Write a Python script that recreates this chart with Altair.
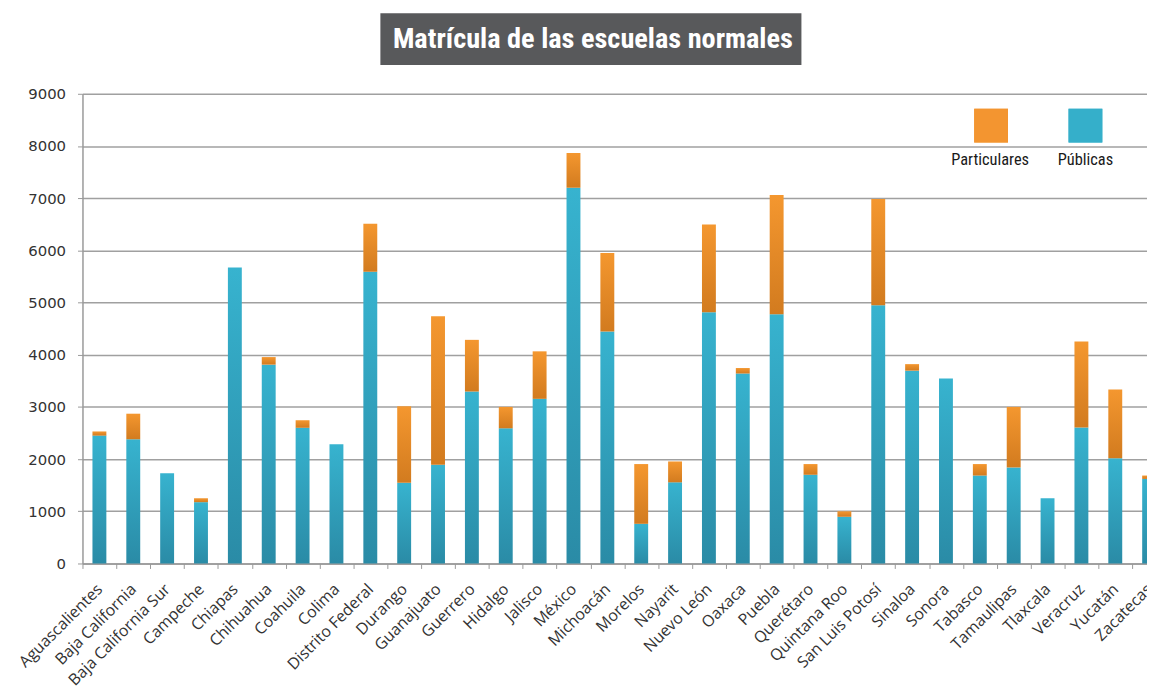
import altair as alt
import pandas as pd

estados = ["Aguascalientes", "Baja California", "Baja California Sur", "Campeche", "Chiapas",
           "Chihuahua", "Coahuila", "Colima", "Distrito Federal", "Durango", "Guanajuato",
           "Guerrero", "Hidalgo", "Jalisco", "México", "Michoacán", "Morelos", "Nayarit",
           "Nuevo León", "Oaxaca", "Puebla", "Querétaro", "Quintana Roo", "San Luis Potosí",
           "Sinaloa", "Sonora", "Tabasco", "Tamaulipas", "Tlaxcala", "Veracruz", "Yucatán",
           "Zacatecas"]
publicas = [2450, 2380, 1730, 1175, 5670, 3810, 2600, 2285, 5590, 1545, 1890, 3295, 2590, 3155,
            7200, 4445, 760, 1555, 4815, 3640, 4775, 1700, 895, 4950, 3695, 3545, 1685, 1840,
            1250, 2605, 2015, 1620]
particulares = [80, 490, 0, 75, 0, 145, 145, 0, 920, 1470, 2845, 990, 410, 910, 665, 1505, 1145,
                400, 1680, 105, 2285, 205, 105, 2035, 125, 0, 220, 1160, 0, 1650, 1320, 65]
y_ticks = [0, 1000, 2000, 3000, 4000, 5000, 6000, 7000, 8000, 9000]
titulo = "Matrícula de las escuelas normales"
leyenda = ["Particulares", "Públicas"]

df = pd.DataFrame({"estado": estados, "publicas": publicas, "particulares": particulares})
df["total"] = df["publicas"] + df["particulares"]

W, H = 1072, 473
BAND = 34.1
COND = "Roboto Condensed, DejaVu Sans Condensed, Liberation Sans Narrow, Noto Sans Condensed, Roboto"

teal = alt.Gradient(gradient="linear", x1=0, y1=0, x2=0, y2=1,
                    stops=[alt.GradientStop(color="#37b3cf", offset=0),
                           alt.GradientStop(color="#2a8ba6", offset=1)])
orange = alt.Gradient(gradient="linear", x1=0, y1=0, x2=0, y2=1,
                      stops=[alt.GradientStop(color="#f4972f", offset=0),
                             alt.GradientStop(color="#d27b1f", offset=1)])

xenc = alt.X("estado:N", sort=estados, title=None,
             scale=alt.Scale(range=[0, BAND * len(estados)], paddingInner=0, paddingOuter=0),
             axis=alt.Axis(labelAngle=-45, labelAlign="right", labelBaseline="middle",
                           labelFont="Open Sans", labelFontSize=16, labelColor="#333333",
                           labelPadding=18, tickBand="extent", tickSize=5, tickColor="#999999",
                           domainColor="#999999", domainWidth=1.5, grid=False, labelOverlap=False))
yscale = alt.Scale(domain=[0, 9000], nice=False)
yaxis = alt.Axis(values=y_ticks, title=None, labelFont="DejaVu Sans", labelFontSize=15,
                 labelColor="#333333", labelPadding=12, tickSize=5, tickColor="#999999",
                 domainColor="#999999", domainWidth=1.5, gridColor="#a0a0a0", gridWidth=1.5,
                 format="d")

base = alt.Chart(df)
pub_bars = base.mark_bar(size=14, color=teal).encode(
    x=xenc, y=alt.Y("publicas:Q", scale=yscale, axis=yaxis))
part_bars = base.transform_filter("datum.particulares > 0").mark_bar(size=14, color=orange).encode(
    x=alt.X("estado:N", sort=estados), y=alt.Y("total:Q"), y2="publicas:Q")

tdf = pd.DataFrame({"t": [titulo]})
title_box = alt.Chart(tdf).mark_rect(color="#58595b").encode(
    x=alt.value(300), x2=alt.value(724), y=alt.value(-81), y2=alt.value(-29))
title_txt = alt.Chart(tdf).mark_text(color="white", font=COND, fontWeight="bold",
                                     fontSize=28.5, align="center", baseline="middle").encode(
    text="t:N", x=alt.value(514), y=alt.value(-55))

ldf = pd.DataFrame({"t": leyenda})
sq1 = alt.Chart(ldf).mark_rect(color="#f39530").encode(
    x=alt.value(898), x2=alt.value(932), y=alt.value(15), y2=alt.value(49))
sq2 = alt.Chart(ldf).mark_rect(color="#35afca").encode(
    x=alt.value(993), x2=alt.value(1027), y=alt.value(15), y2=alt.value(49))
lt1 = alt.Chart(pd.DataFrame({"t": [leyenda[0]]})).mark_text(
    font=COND, fontSize=16.5, color="#1a1a1a", align="center", baseline="middle").encode(
    text="t:N", x=alt.value(914), y=alt.value(67))
lt2 = alt.Chart(pd.DataFrame({"t": [leyenda[1]]})).mark_text(
    font=COND, fontSize=16.5, color="#1a1a1a", align="center", baseline="middle").encode(
    text="t:N", x=alt.value(1010), y=alt.value(67))

chart = alt.layer(pub_bars, part_bars, title_box, title_txt, sq1, sq2, lt1, lt2).properties(
    width=W, height=H,
    autosize=alt.AutoSizeParams(type="none"),
    padding={"left": 75, "top": 84, "right": 0, "bottom": 123},
    background="white",
).configure_view(stroke=None)

chart.save("out.html", embed_options={"renderer": "svg", "actions": False})
